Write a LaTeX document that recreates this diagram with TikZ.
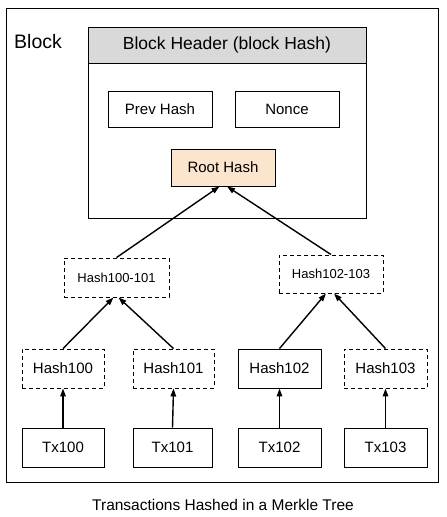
\documentclass[tikz,border=0pt]{standalone}
\usepackage{fontspec}
\setmainfont{Liberation Sans}
\usetikzlibrary{arrows.meta,calc}
\definecolor{peach}{HTML}{FCE5CD}
\definecolor{hdrgray}{HTML}{D9D9D9}
\tikzset{
  box/.style={draw=black, line width=0.9pt, inner sep=0pt, minimum height=37pt, font=\fontsize{15}{18}\selectfont},
  dbox/.style={box, dash pattern=on 4pt off 3pt},
  arr/.style={line width=1.4pt, -{Triangle[length=8pt,width=5.5pt]}},
}
\begin{document}
\begin{tikzpicture}[x=1pt,y=-1pt]
\useasboundingbox (0,0) rectangle (447,517);
% outer block
\draw[line width=0.9pt] (6,8) rectangle (438,482);
\node[anchor=west, font=\fontsize{19.5}{22}\selectfont, inner sep=0pt] (blk) at (14,42) {Block};
% header
\draw[line width=0.9pt, fill=hdrgray] (88,27) rectangle (366,63);
\draw[line width=0.9pt] (88,63) rectangle (366,218);
\node[font=\fontsize{17.5}{20}\selectfont, inner sep=0pt] (hdr) at (227,45) {Block Header (block Hash)};
\node[box, minimum width=104pt, minimum height=36pt] (prev) at (160,109) {Prev Hash};
\node[box, minimum width=104pt, minimum height=36pt] (nonce) at (287,109) {Nonce};
\node[box, fill=peach, minimum width=104pt] (root) at (223,167.5) {Root Hash};
% level 1
\node[dbox, minimum width=105pt, minimum height=39pt, font=\fontsize{13}{15}\selectfont] (h01) at (116.5,277.5) {Hash100-101};
\node[dbox, minimum width=104pt, minimum height=38pt, font=\fontsize{13}{15}\selectfont] (h23) at (331,274) {Hash102-103};
% level 2
\node[dbox, minimum width=82pt, minimum height=39pt] (h0) at (63,368.5) {Hash100};
\node[dbox, minimum width=81pt, minimum height=39pt] (h1) at (173.5,368.5) {Hash101};
\node[box, minimum width=83pt, minimum height=39pt] (h2) at (279.5,368.5) {Hash102};
\node[dbox, minimum width=83pt, minimum height=39pt] (h3) at (385.5,368.5) {Hash103};
% transactions
\node[box, minimum width=82pt, minimum height=39pt] (t0) at (63,447.5) {Tx100};
\node[box, minimum width=79pt, minimum height=39pt] (t1) at (172.5,447.5) {Tx101};
\node[box, minimum width=83pt, minimum height=39pt] (t2) at (279.5,447.5) {Tx102};
\node[box, minimum width=83pt, minimum height=39pt] (t3) at (385.5,447.5) {Tx103};
% arrows
\draw[arr] (h01.north) -- ($(root.south)+(-3.5,0)$);
\draw[arr] (h23.north) -- ($(root.south)+(4,0)$);
\draw[arr] (h0.north) -- ($(h01.south)+(-3,0)$);
\draw[arr] (h1.north) -- ($(h01.south)+(2,0)$);
\draw[arr] (h2.north) -- ($(h23.south)+(-5,0)$);
\draw[arr] (h3.north) -- ($(h23.south)+(3,0)$);
\draw[arr] (t0.north) -- (h0.south);
\draw[arr] (t1.north) -- (h1.south);
\draw[arr] (t2.north) -- (h2.south);
\draw[arr] (t3.north) -- (h3.south);
% caption
\node[font=\fontsize{15.5}{18}\selectfont, inner sep=0pt] (cap) at (223,505) {Transactions Hashed in a Merkle Tree};
\end{tikzpicture}
\end{document}
